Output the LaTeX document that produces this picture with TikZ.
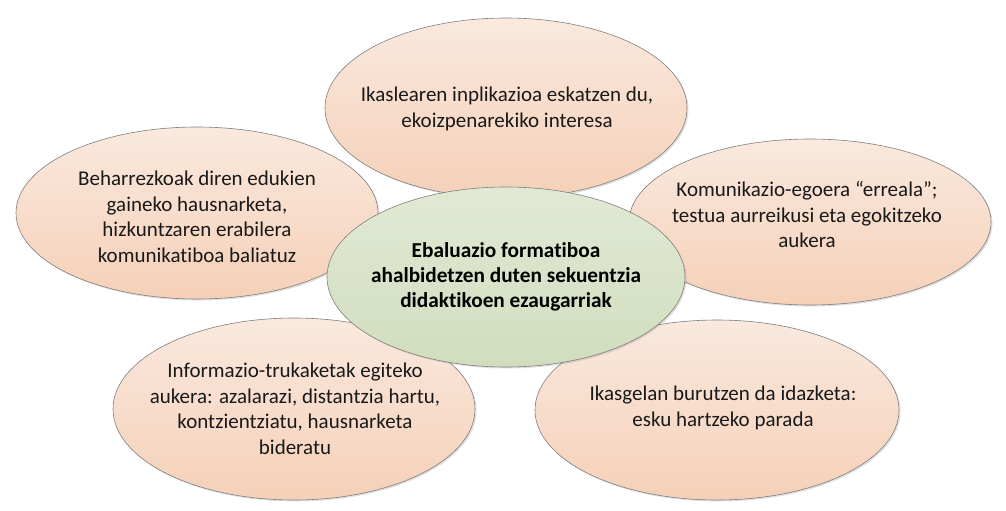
\documentclass[tikz,border=0pt]{standalone}
\usepackage{fontspec}
\setmainfont{Carlito}[Ligatures={NoCommon}]
\usetikzlibrary{shapes.geometric,shadows}
\definecolor{peachtop}{HTML}{FAE9DE}
\definecolor{peachbot}{HTML}{F5D0B8}
\definecolor{greentop}{HTML}{E1E9D4}
\definecolor{greenbot}{HTML}{D2DDBE}
\definecolor{rimgray}{HTML}{7F7F7F}
\tikzset{
  bubble/.style={ellipse, draw=rimgray, line width=0.6pt, inner sep=0pt,
    minimum width=362pt, minimum height=176pt,
    top color=peachtop, bottom color=peachbot,
    drop shadow={opacity=0.25, shadow xshift=1.5pt, shadow yshift=-1.5pt}},
  hub/.style={bubble, top color=greentop, bottom color=greenbot},
  txt/.style={align=center, font=\fontsize{21}{25.5}\selectfont, text=black!90, inner sep=0pt},
  hubtxt/.style={txt, font=\fontsize{21.3}{25}\selectfont\bfseries, text=black}
}
\begin{document}
\begin{tikzpicture}[x=1pt,y=-1pt]
\useasboundingbox (0,0) rectangle (1006,511);
\node[bubble, minimum height=180pt] (top) at (506,108) {};
\node[bubble, minimum height=172pt] (left) at (197,213) {};
\node[bubble, minimum height=166pt] (right) at (810,222) {};
\node[bubble, minimum height=182pt] (bl) at (294,409) {};
\node[bubble, minimum height=180pt, minimum width=364pt] (br) at (717,410) {};
\node[hub, minimum width=358pt, minimum height=180pt] (hub) at (506,277) {};
\node[txt] (toptxt) at (507,109) {Ikaslearen inplikazioa eskatzen du,\\ekoizpenarekiko interesa};
\node[txt] (lefttxt) at (197,217) {Beharrezkoak diren edukien\\gaineko hausnarketa,\\hizkuntzaren erabilera\\komunikatiboa baliatuz};
\node[txt] (righttxt) at (807,215) {Komunikazio-egoera “erreala”;\\testua aurreikusi eta egokitzeko\\aukera};
\node[txt] (bltxt) at (295,409) {Informazio-trukaketak egiteko\\aukera: azalarazi, distantzia hartu,\\kontzientziatu, hausnarketa\\bideratu};
\node[txt] (brtxt) at (723,408) {Ikasgelan burutzen da idazketa:\\esku hartzeko parada};
\node[hubtxt] (hubtxt) at (506,277) {Ebaluazio formatiboa\\ahalbidetzen duten sekuentzia\\didaktikoen ezaugarriak};
\end{tikzpicture}
\end{document}
